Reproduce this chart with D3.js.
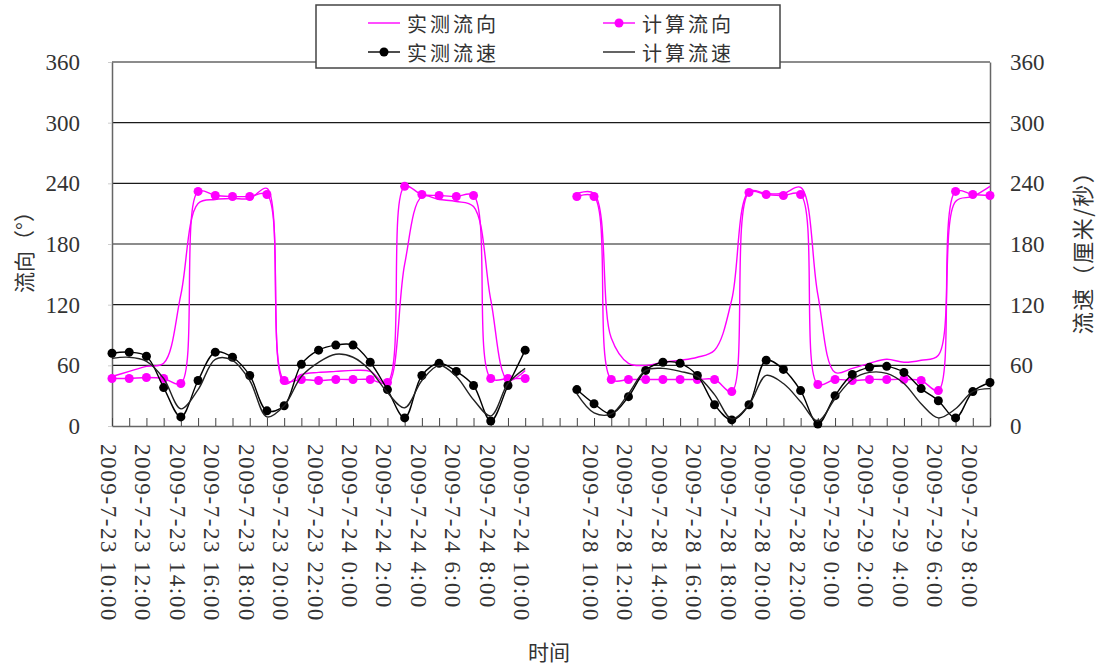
<!DOCTYPE html>
<html>
<head>
<meta charset="utf-8">
<script src="https://cdn.jsdelivr.net/npm/d3@7"></script>
<style>
  body { margin: 0; background: #fff; }
  svg { display: block; }
  .num { font-family: "Liberation Serif", "Times New Roman", "DejaVu Serif", serif; }
  .cjk { font-family: "Noto Sans CJK SC", "Noto Sans", sans-serif; }
</style>
</head>
<body>
<svg id="chart" width="1097" height="668"></svg>
<script>
// Hourly observation times; two blank slots separate the two survey periods.
const timeLabels = [
  "2009-7-23 10:00", "2009-7-23 11:00", "2009-7-23 12:00", "2009-7-23 13:00",
  "2009-7-23 14:00", "2009-7-23 15:00", "2009-7-23 16:00", "2009-7-23 17:00",
  "2009-7-23 18:00", "2009-7-23 19:00", "2009-7-23 20:00", "2009-7-23 21:00",
  "2009-7-23 22:00", "2009-7-23 23:00", "2009-7-24 0:00", "2009-7-24 1:00",
  "2009-7-24 2:00", "2009-7-24 3:00", "2009-7-24 4:00", "2009-7-24 5:00",
  "2009-7-24 6:00", "2009-7-24 7:00", "2009-7-24 8:00", "2009-7-24 9:00",
  "2009-7-24 10:00", "", "",
  "2009-7-28 9:00", "2009-7-28 10:00", "2009-7-28 11:00", "2009-7-28 12:00",
  "2009-7-28 13:00", "2009-7-28 14:00", "2009-7-28 15:00", "2009-7-28 16:00",
  "2009-7-28 17:00", "2009-7-28 18:00", "2009-7-28 19:00", "2009-7-28 20:00",
  "2009-7-28 21:00", "2009-7-28 22:00", "2009-7-28 23:00", "2009-7-29 0:00",
  "2009-7-29 1:00", "2009-7-29 2:00", "2009-7-29 3:00", "2009-7-29 4:00",
  "2009-7-29 5:00", "2009-7-29 6:00", "2009-7-29 7:00", "2009-7-29 8:00",
  "2009-7-29 9:00"
];

// 实测流向 (°)
const measuredDir = [
  49, 54, 59, 62, 130, 220, 224, 225, 225, 235, 42, 51, 53, 54, 55, 54, 41,
  160, 227, 224, 222, 217, 125, 45, 55,
  null, null,
  230, 230, 87, 62, 60, 63, 65, 68, 75, 125, 232, 230, 230, 236, 130, 53,
  57, 62, 66, 63, 65, 70, 222, 227, 237
];

// 计算流向 (°)
const computedDir = [
  47, 47, 48, 47, 42, 232, 228, 227, 227, 229, 45, 46, 45, 46, 46, 46, 43,
  237, 229, 228, 227, 228, 47, 47, 47,
  null, null,
  227, 227, 46, 46, 46, 46, 46, 46, 46, 34, 231, 229, 228, 229, 41, 46,
  45, 46, 46, 46, 45, 35, 232, 229, 228
];

// 实测流速 (厘米/秒)
const measuredSpeed = [
  72, 73, 69, 38, 9, 45, 73, 68, 50, 15, 20, 61, 75, 80, 80, 63, 36,
  8, 50, 62, 54, 40, 5, 40, 75,
  null, null,
  36, 22, 12, 29, 55, 63, 62, 50, 21, 6, 21, 65, 56, 35, 2, 30,
  51, 58, 59, 53, 37, 25, 8, 34, 43
];

// 计算流速 (厘米/秒)
const computedSpeed = [
  67, 68, 64, 47, 17, 36, 66, 65, 45, 9, 20, 49, 63, 71, 68, 55, 33,
  18, 45, 60, 49, 26, 10, 42, 57,
  null, null,
  32, 13, 12, 32, 55, 57, 54, 49, 31, 7, 21, 50, 42, 24, 5, 27,
  46, 53, 52, 42, 22, 8, 17, 34, 37
];

const dirTicks = [0, 60, 120, 180, 240, 300, 360];
const speedTicks = [0, 60, 120, 180, 240, 300, 360];

const svg = d3.select("#chart");
const plot = { left: 112, right: 990, top: 62, bottom: 426 };

const x = d3.scalePoint()
  .domain(d3.range(timeLabels.length))
  .range([plot.left, plot.right]);
const yDir = d3.scaleLinear().domain([0, 360]).range([plot.bottom, plot.top]);
const ySpeed = d3.scaleLinear().domain([0, 360]).range([plot.bottom, plot.top]);

// horizontal gridlines
svg.append("g")
  .selectAll("line")
  .data(dirTicks.filter(d => d > 0))
  .join("line")
  .attr("x1", plot.left).attr("x2", plot.right)
  .attr("y1", d => yDir(d)).attr("y2", d => yDir(d))
  .attr("stroke", "#1a1a1a").attr("stroke-width", 1.2);

function styleNumbers(sel) {
  sel.attr("class", "num")
    .attr("font-family", null)
    .style("font-size", "23px")
    .attr("fill", "#333");
}

// left axis: direction
const gLeft = svg.append("g")
  .attr("transform", `translate(${plot.left},0)`)
  .call(d3.axisLeft(yDir).tickValues(dirTicks).tickSize(4).tickSizeOuter(0).tickPadding(28));
gLeft.attr("font-family", null).attr("font-size", null);
gLeft.select(".domain").attr("stroke", "#666").attr("stroke-width", 1.5);
gLeft.selectAll(".tick line").attr("stroke", "#ccc");
styleNumbers(gLeft.selectAll(".tick text"));

// right axis: speed
const gRight = svg.append("g")
  .attr("transform", `translate(${plot.right},0)`)
  .call(d3.axisRight(ySpeed).tickValues(speedTicks).tickSize(0).tickSizeOuter(0).tickPadding(20));
gRight.attr("font-family", null).attr("font-size", null);
gRight.select(".domain").attr("stroke", "#666").attr("stroke-width", 1.5);
styleNumbers(gRight.selectAll(".tick text"));

// bottom axis: one tick per hour, a label every second hour
const gBottom = svg.append("g")
  .attr("transform", `translate(0,${plot.bottom})`)
  .call(d3.axisBottom(x).tickSize(-8).tickSizeOuter(0)
    .tickFormat(i => (i % 2 === 0 ? timeLabels[i] : "")));
gBottom.attr("font-family", null).attr("font-size", null);
gBottom.select(".domain").attr("stroke", "#666").attr("stroke-width", 1.5);
gBottom.selectAll(".tick line").attr("stroke", "#444");
const xText = gBottom.selectAll(".tick text")
  .attr("x", 0).attr("y", 0).attr("dy", null)
  .attr("transform", "translate(-4,18) rotate(90)")
  .attr("text-anchor", "start")
  .attr("dominant-baseline", "central");
styleNumbers(xText);
xText.style("letter-spacing", "1.6px");

// axis titles
svg.append("text")
  .attr("class", "cjk")
  .attr("transform", "translate(23,247) rotate(-90)")
  .attr("text-anchor", "middle").attr("dominant-baseline", "central")
  .style("font-size", "21px").attr("fill", "#333")
  .text("流向（°）");
svg.append("text")
  .attr("class", "cjk")
  .attr("transform", "translate(1081,247) rotate(-90)")
  .attr("text-anchor", "middle").attr("dominant-baseline", "central")
  .style("font-size", "22px").style("letter-spacing", "1.5px").attr("fill", "#333")
  .text("流速（厘米/秒）");
svg.append("text")
  .attr("class", "cjk")
  .attr("x", 549).attr("y", 651)
  .attr("text-anchor", "middle").attr("dominant-baseline", "central")
  .style("font-size", "21px").attr("fill", "#333")
  .text("时间");

// series
const series = [
  { name: "实测流向", values: measuredDir, y: yDir, color: "#ff00ff", width: 1.4, marker: false },
  { name: "计算流向", values: computedDir, y: yDir, color: "#ff00ff", width: 1.4, marker: true },
  { name: "实测流速", values: measuredSpeed, y: ySpeed, color: "#000", width: 1.4, marker: true },
  { name: "计算流速", values: computedSpeed, y: ySpeed, color: "#222", width: 1.4, marker: false }
];

const curve = d3.curveCatmullRom.alpha(0.5);

series.forEach(s => {
  const line = d3.line()
    .defined(d => d != null)
    .x((d, i) => x(i))
    .y(d => s.y(d))
    .curve(curve);
  svg.append("path")
    .datum(s.values)
    .attr("fill", "none")
    .attr("stroke", s.color)
    .attr("stroke-width", s.width)
    .attr("d", line);
  if (s.marker) {
    svg.append("g")
      .selectAll("circle")
      .data(s.values.map((v, i) => ({ v, i })).filter(d => d.v != null))
      .join("circle")
      .attr("cx", d => x(d.i))
      .attr("cy", d => s.y(d.v))
      .attr("r", 4.5)
      .attr("fill", s.color);
  }
});

// legend
const legend = svg.append("g");
legend.append("rect")
  .attr("x", 316).attr("y", 5).attr("width", 464).attr("height", 63)
  .attr("fill", "#fff").attr("stroke", "#444").attr("stroke-width", 1.5);
const legendPos = [
  { x: 368, y: 23 }, { x: 603, y: 23 },
  { x: 368, y: 52 }, { x: 603, y: 52 }
];
series.forEach((s, i) => {
  const p = legendPos[i];
  legend.append("line")
    .attr("x1", p.x).attr("x2", p.x + 32)
    .attr("y1", p.y).attr("y2", p.y)
    .attr("stroke", s.color).attr("stroke-width", 1.4);
  if (s.marker) {
    legend.append("circle")
      .attr("cx", p.x + 16).attr("cy", p.y).attr("r", 4.5)
      .attr("fill", s.color);
  }
  legend.append("text")
    .attr("class", "cjk")
    .attr("x", p.x + 39).attr("y", p.y)
    .attr("dominant-baseline", "central")
    .style("font-size", "20px").style("letter-spacing", "3px").attr("fill", "#333")
    .text(s.name);
});
</script>
</body>
</html>
